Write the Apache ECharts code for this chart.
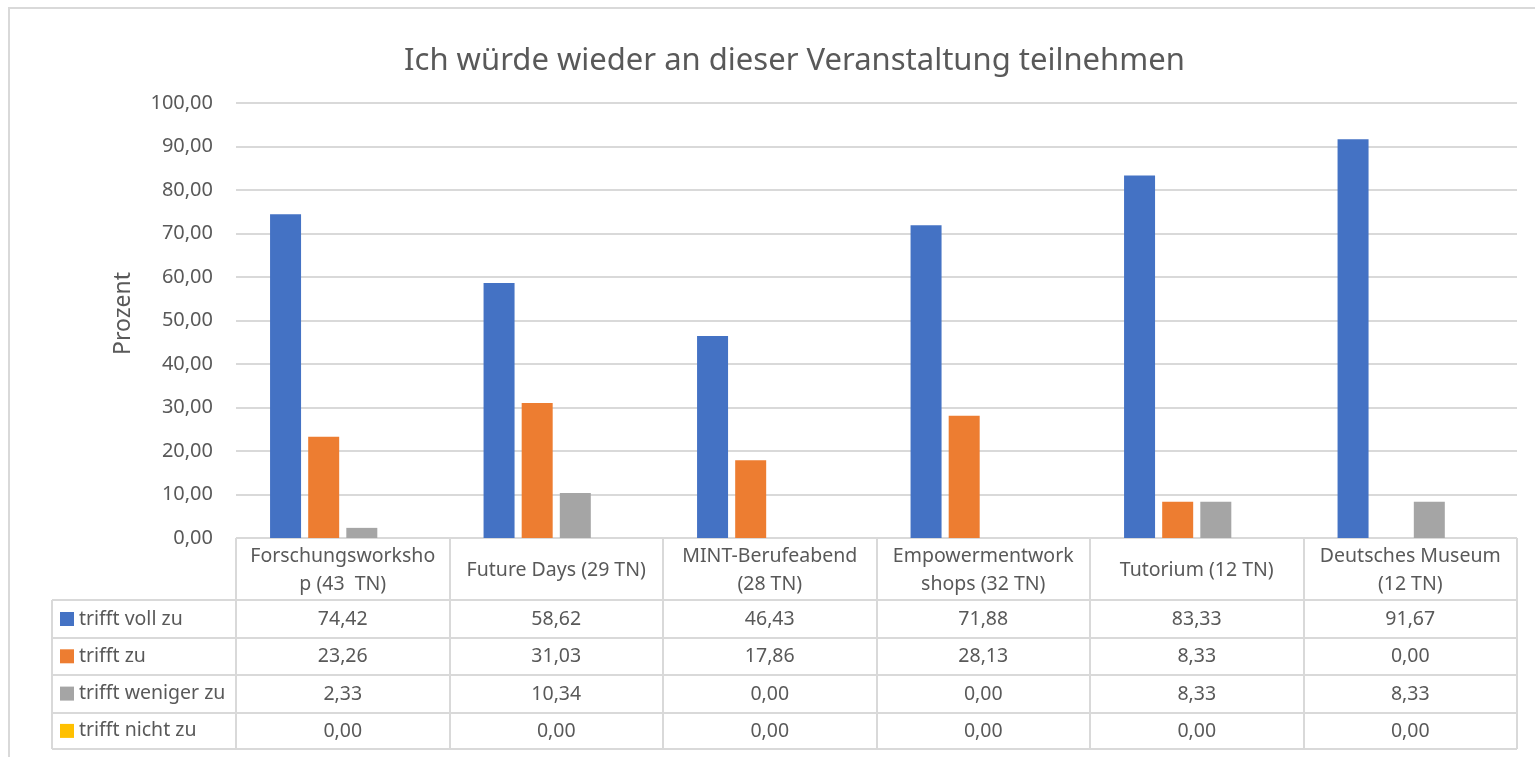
<!DOCTYPE html>
<html>
<head>
<meta charset="utf-8">
<script src="https://cdn.jsdelivr.net/npm/echarts@6/dist/echarts.min.js"></script>
<style>
  html, body { margin: 0; padding: 0; background: #fff; }
  #chart { width: 1535px; height: 757px; }
</style>
</head>
<body>
<div id="chart"></div>
<script>
// Kategorien (Zeilenumbrüche wie im Original-Diagramm)
var categories = [
  'Forschungsworksho\np (43  TN)',
  'Future Days (29 TN)',
  'MINT-Berufeabend\n(28 TN)',
  'Empowermentwork\nshops (32 TN)',
  'Tutorium (12 TN)',
  'Deutsches Museum\n(12 TN)'
]
var seriesNames = ['trifft voll zu', 'trifft zu', 'trifft weniger zu', 'trifft nicht zu']
var trifftVollZu = [74.42, 58.62, 46.43, 71.88, 83.33, 91.67]
var trifftZu = [23.26, 31.03, 17.86, 28.13, 8.33, 0.00]
var trifftWenigerZu = [2.33, 10.34, 0.00, 0.00, 8.33, 8.33]
var trifftNichtZu = [0.00, 0.00, 0.00, 0.00, 0.00, 0.00]
var yTicks = [0, 10, 20, 30, 40, 50, 60, 70, 80, 90, 100]

var allValues = [trifftVollZu, trifftZu, trifftWenigerZu, trifftNichtZu]
var colors = ['#4472C4', '#ED7D31', '#A5A5A5', '#FFC000']
var textColor = '#595959'
var lineColor = '#d9d9d9'
var fontFamily = '"Noto Sans", "Open Sans", sans-serif'
var tableFont = 19.5

function fmt (v) {
  return Number(v).toFixed(2).replace('.', ',')
}

// Tabellen-Geometrie
var gridLeft = 236
var gridRight = 1517
var axisY = 538
var rowLines = [600, 638, 675, 713, 749]
var rowCenters = [619, 656, 694, 731]
var tableLeft = 52

var chart = echarts.init(document.getElementById('chart'))

var xAxes = [{
  type: 'category',
  data: categories,
  axisLine: { show: false },
  axisTick: { show: false },
  axisLabel: {
    interval: 0,
    margin: 32,
    verticalAlign: 'middle',
    lineHeight: 28,
    fontSize: tableFont,
    color: textColor,
    fontFamily: fontFamily
  }
}]
// Werte-Zeilen der Datentabelle als zusätzliche x-Achsen
allValues.forEach(function (vals, k) {
  xAxes.push({
    type: 'category',
    data: categories,
    position: 'bottom',
    axisLine: { show: false },
    axisTick: { show: false },
    axisLabel: {
      interval: 0,
      margin: rowCenters[k] - axisY,
      verticalAlign: 'middle',
      fontSize: tableFont,
      color: textColor,
      fontFamily: fontFamily,
      formatter: function (v, i) { return fmt(vals[i]) }
    }
  })
})

var graphics = [{
  type: 'rect',
  shape: { x: 9, y: 8, width: 1600, height: 800 },
  style: { fill: 'none', stroke: lineColor, lineWidth: 2 },
  silent: true
}]
// horizontale Tabellenlinien
graphics.push({
  type: 'line',
  shape: { x1: gridLeft, y1: axisY, x2: gridRight, y2: axisY },
  style: { stroke: lineColor, lineWidth: 2 }
})
rowLines.forEach(function (y) {
  graphics.push({
    type: 'line',
    shape: { x1: tableLeft, y1: y, x2: gridRight, y2: y },
    style: { stroke: lineColor, lineWidth: 2 }
  })
})
// vertikale Tabellenlinien
graphics.push({
  type: 'line',
  shape: { x1: tableLeft, y1: rowLines[0], x2: tableLeft, y2: rowLines[4] },
  style: { stroke: lineColor, lineWidth: 2 }
})
var colW = (gridRight - gridLeft) / categories.length
for (var c = 0; c <= categories.length; c++) {
  var x = Math.round(gridLeft + c * colW)
  graphics.push({
    type: 'line',
    shape: { x1: x, y1: axisY, x2: x, y2: rowLines[4] },
    style: { stroke: lineColor, lineWidth: 2 }
  })
}

chart.setOption({
  animation: false,
  color: colors,
  title: {
    text: 'Ich würde wieder an dieser Veranstaltung teilnehmen',
    left: 404,
    top: 46,
    padding: 0,
    textStyle: {
      fontSize: 31,
      fontWeight: 'normal',
      color: textColor,
      fontFamily: fontFamily
    }
  },
  legend: {
    orient: 'vertical',
    left: 60,
    top: rowCenters[0] - 10,
    padding: 0,
    itemWidth: 14,
    itemHeight: 14,
    itemGap: 17.3,
    icon: 'rect',
    data: seriesNames,
    textStyle: {
      fontSize: tableFont,
      lineHeight: 20,
      color: textColor,
      fontFamily: fontFamily
    }
  },
  grid: {
    left: gridLeft,
    right: 1535 - gridRight,
    top: 103,
    bottom: 757 - axisY,
    containLabel: false
  },
  xAxis: xAxes,
  yAxis: {
    type: 'value',
    min: yTicks[0],
    max: yTicks[yTicks.length - 1],
    interval: 10,
    name: 'Prozent',
    nameLocation: 'middle',
    nameRotate: 90,
    nameGap: 101,
    nameTextStyle: {
      fontSize: 23,
      color: textColor,
      fontFamily: fontFamily,
      padding: [0, 0, 0, 14]
    },
    axisLine: { show: false },
    axisTick: { show: false },
    axisLabel: {
      margin: 23,
      fontSize: 20,
      color: textColor,
      fontFamily: fontFamily,
      formatter: fmt
    },
    splitLine: { lineStyle: { color: lineColor, width: 2 } }
  },
  series: seriesNames.map(function (name, k) {
    return {
      name: name,
      type: 'bar',
      barWidth: 31,
      barGap: '23%',
      data: allValues[k]
    }
  }),
  graphic: graphics
})
</script>
</body>
</html>
